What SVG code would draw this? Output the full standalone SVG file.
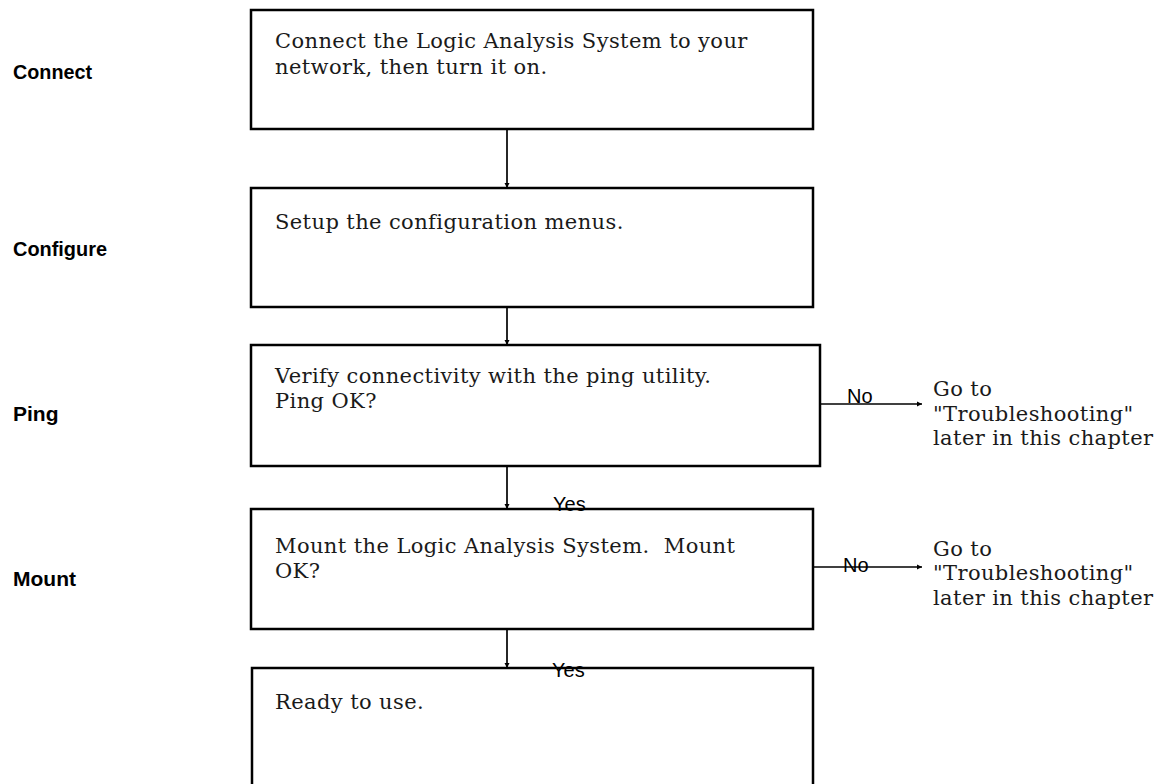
<svg xmlns="http://www.w3.org/2000/svg" width="1161" height="784" viewBox="0 0 1161 784">
<defs>
<style>
.box{fill:#fff;stroke:#000;stroke-width:2.5}
.t{font-family:"DejaVu Serif","Liberation Serif",serif;font-size:21px;letter-spacing:0.4px;fill:#1a1a1a;white-space:pre}
.lbl{font-family:"Liberation Sans",Arial,sans-serif;font-size:21px;font-weight:bold;fill:#000}
.yn{font-family:"Liberation Sans",Arial,sans-serif;font-size:20px;fill:#000}
.c{stroke:#000;stroke-width:1.7;fill:none;marker-end:url(#ah)}
</style>
<marker id="ah" viewBox="0 0 6 6" refX="6" refY="3" markerWidth="3" markerHeight="3" orient="auto" markerUnits="strokeWidth">
<path d="M0,0 L6,3 L0,6 z" fill="#000"/>
</marker>
</defs>
<rect width="1161" height="784" fill="#fff"/>
<g id="side-labels">
<text class="lbl" x="13" y="79" textLength="79" lengthAdjust="spacingAndGlyphs">Connect</text>
<text class="lbl" x="13" y="256" textLength="94" lengthAdjust="spacingAndGlyphs">Configure</text>
<text class="lbl" x="13" y="421">Ping</text>
<text class="lbl" x="13" y="586">Mount</text>
</g>
<g id="connectors">
<line class="c" x1="507" y1="129" x2="507" y2="188"/>
<line class="c" x1="507" y1="307" x2="507" y2="345"/>
<line class="c" x1="507" y1="466" x2="507" y2="509"/>
<line class="c" x1="507" y1="629" x2="507" y2="668"/>
<line class="c" x1="820" y1="404" x2="922" y2="404"/>
<line class="c" x1="813" y1="567" x2="922" y2="567"/>
</g>
<g id="n-connect">
<rect class="box" x="251" y="10" width="562" height="119"/>
<text class="t" x="275" y="48">Connect the Logic Analysis System to your</text>
<text class="t" x="275" y="74">network, then turn it on.</text>
</g>
<g id="n-configure">
<rect class="box" x="251" y="188" width="562" height="119"/>
<text class="t" x="275" y="229">Setup the configuration menus.</text>
</g>
<g id="n-ping">
<rect class="box" x="251" y="345" width="569" height="121"/>
<text class="t" x="275" y="383">Verify connectivity with the ping utility.</text>
<text class="t" x="275" y="408">Ping OK?</text>
</g>
<g id="n-mount">
<rect class="box" x="251" y="509" width="562" height="120"/>
<text class="t" x="275" y="553" xml:space="preserve">Mount the Logic Analysis System.  Mount</text>
<text class="t" x="275" y="578">OK?</text>
</g>
<g id="n-ready">
<rect class="box" x="252" y="668" width="561" height="140"/>
<text class="t" x="275" y="709">Ready to use.</text>
</g>
<g id="n-trouble1">
<text class="t" x="933" y="396">Go to</text>
<text class="t" x="933" y="420.5">"Troubleshooting"</text>
<text class="t" x="933" y="445">later in this chapter</text>
</g>
<g id="n-trouble2">
<text class="t" x="933" y="556">Go to</text>
<text class="t" x="933" y="580">"Troubleshooting"</text>
<text class="t" x="933" y="605">later in this chapter</text>
</g>
<g id="edge-labels">
<text class="yn" x="847" y="403">No</text>
<text class="yn" x="843" y="572">No</text>
<text class="yn" x="553" y="511">Yes</text>
<text class="yn" x="552" y="677">Yes</text>
</g>
</svg>
